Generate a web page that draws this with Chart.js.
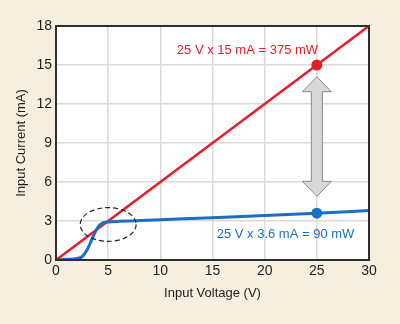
<!DOCTYPE html>
<html>
<head>
<meta charset="utf-8">
<script src="https://cdn.jsdelivr.net/npm/chart.js@4"></script>
<style>
  html, body { margin: 0; padding: 0; background: #f6efdf; }
  #wrap { width: 400px; height: 324px; position: relative; }
</style>
</head>
<body>
<div id="wrap"><canvas id="ivChart"></canvas></div>
<script>
// resistive load: straight line through the origin
const resistorVolts = [0, 30];
const resistorMilliamps = [0, 18];

// constant-current input: flat above ~4.5 V
const ccVolts = [0, 1, 2, 2.5, 3, 3.5, 4, 4.5, 5, 7.5, 10, 15, 20, 25, 30];
const ccMilliamps = [0, 0.05, 0.12, 0.25, 0.8, 1.7, 2.5, 2.85, 2.92, 3.02, 3.1, 3.25, 3.42, 3.6, 3.8];

// operating points at 25 V
const opVolts = [25, 25];
const opMilliamps = [15, 3.6];
const opLabels = ['25 V x 15 mA = 375 mW', '25 V x 3.6 mA = 90 mW'];

const xTicks = [0, 5, 10, 15, 20, 25, 30];
const yTicks = [0, 3, 6, 9, 12, 15, 18];

const RED = '#e61e2b';
const BLUE = '#1b6ec2';
const FONT = "'Liberation Sans', Arial, sans-serif";

const toPoints = (xs, ys) => xs.map((x, i) => ({ x, y: ys[i] }));

const plotFramePlugin = {
  id: 'plotFrame',
  beforeDraw(chart) {
    const { ctx, chartArea: a } = chart;
    ctx.save();
    ctx.fillStyle = '#ffffff';
    ctx.fillRect(a.left, a.top, a.right - a.left, a.bottom - a.top);
    ctx.restore();
  },
  afterDatasetsDraw(chart) {
    const { ctx, chartArea: a, scales } = chart;
    const x = scales.x, y = scales.y;
    ctx.save();

    // frame around the plot
    ctx.lineWidth = 2;
    ctx.strokeStyle = '#2e2e2e';
    ctx.strokeRect(a.left, a.top, a.right - a.left, a.bottom - a.top);

    // dashed ellipse around the knee of the curve
    const ex = x.getPixelForValue(5), ey = y.getPixelForValue(2.73);
    const rx = x.getPixelForValue(7.68) - ex, ry = ey - y.getPixelForValue(4.03);
    ctx.beginPath();
    ctx.ellipse(ex, ey, rx, ry, 0, 0, Math.PI * 2);
    ctx.setLineDash([5, 3]);
    ctx.lineWidth = 1.2;
    ctx.strokeStyle = '#222';
    ctx.stroke();
    ctx.setLineDash([]);

    // double-headed arrow between the two operating points
    const ax = x.getPixelForValue(25);
    const top = y.getPixelForValue(14.1), bot = y.getPixelForValue(4.9);
    const hw = 14.5, sw = 5.5, hl = 15;
    ctx.beginPath();
    ctx.moveTo(ax, top);
    ctx.lineTo(ax + hw, top + hl);
    ctx.lineTo(ax + sw, top + hl);
    ctx.lineTo(ax + sw, bot - hl);
    ctx.lineTo(ax + hw, bot - hl);
    ctx.lineTo(ax, bot);
    ctx.lineTo(ax - hw, bot - hl);
    ctx.lineTo(ax - sw, bot - hl);
    ctx.lineTo(ax - sw, top + hl);
    ctx.lineTo(ax - hw, top + hl);
    ctx.closePath();
    ctx.fillStyle = '#d6d9d6';
    ctx.fill();
    ctx.lineWidth = 1;
    ctx.strokeStyle = '#8a8a8a';
    ctx.stroke();

    // power labels
    ctx.font = '13px ' + FONT;
    ctx.textAlign = 'center';
    ctx.textBaseline = 'middle';
    ctx.fillStyle = RED;
    ctx.fillText(opLabels[0], x.getPixelForValue(18.35), y.getPixelForValue(16.1));
    ctx.fillStyle = BLUE;
    ctx.fillText(opLabels[1], x.getPixelForValue(22.0), y.getPixelForValue(2.0));

    ctx.restore();
  },
};

new Chart(document.getElementById('ivChart'), {
  type: 'scatter',
  plugins: [plotFramePlugin],
  data: {
    datasets: [
      {
        data: toPoints(resistorVolts, resistorMilliamps),
        showLine: true,
        borderColor: RED,
        borderWidth: 2.6,
        pointRadius: 0,
        order: 3,
      },
      {
        data: toPoints(ccVolts, ccMilliamps),
        showLine: true,
        borderColor: BLUE,
        borderWidth: 3,
        pointRadius: 0,
        cubicInterpolationMode: 'monotone',
        order: 2,
      },
      {
        data: toPoints(opVolts, opMilliamps),
        showLine: false,
        pointRadius: 5.5,
        pointBackgroundColor: [RED, BLUE],
        pointBorderWidth: 0,
        order: 1,
      },
    ],
  },
  options: {
    responsive: true,
    maintainAspectRatio: false,
    animation: false,
    layout: { padding: { left: 0, top: 26, right: 31, bottom: 0 } },
    plugins: { legend: { display: false }, tooltip: { enabled: false } },
    scales: {
      x: {
        type: 'linear',
        min: 0,
        max: 30,
        afterBuildTicks: (s) => { s.ticks = xTicks.map((v) => ({ value: v })); },
        afterFit: (s) => { s.height = 64; },
        grid: { color: '#dadada', lineWidth: 1.5, drawTicks: false },
        border: { display: false },
        ticks: { color: '#1e1e1e', padding: 3, font: { family: FONT, size: 14 } },
        title: {
          display: true,
          text: 'Input Voltage (V)',
          color: '#1e1e1e',
          padding: { top: 0, bottom: 23 },
          font: { family: FONT, size: 13 },
        },
      },
      y: {
        type: 'linear',
        min: 0,
        max: 18,
        afterBuildTicks: (s) => { s.ticks = yTicks.map((v) => ({ value: v })); },
        afterFit: (s) => { s.width = 56; },
        grid: { color: '#dadada', lineWidth: 1.5, drawTicks: false },
        border: { display: false },
        ticks: { color: '#1e1e1e', padding: 4, font: { family: FONT, size: 14 } },
        title: {
          display: true,
          text: 'Input Current (mA)',
          color: '#1e1e1e',
          padding: { top: 14, bottom: 0 },
          font: { family: FONT, size: 13 },
        },
      },
    },
  },
});
</script>
</body>
</html>
